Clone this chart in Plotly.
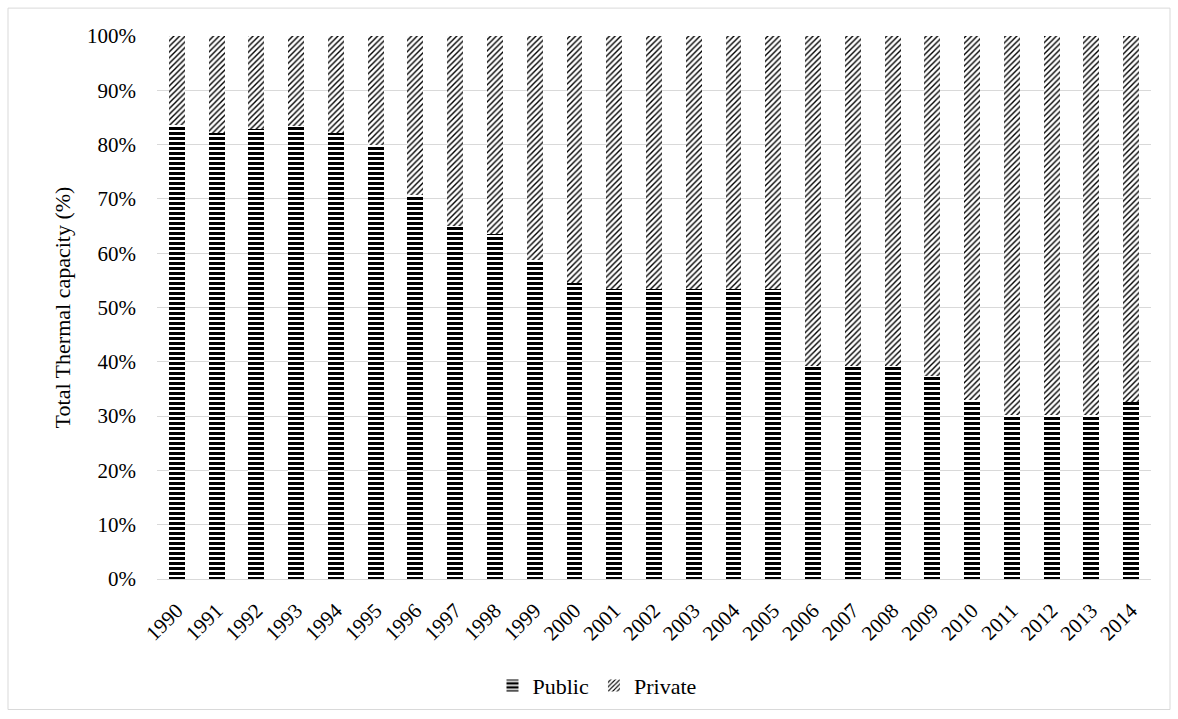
import plotly.graph_objects as go

years = [str(y) for y in range(1990, 2015)]
public = [83.6, 82.2, 82.9, 83.5, 82.2, 80.0, 70.8, 65.0, 63.5, 58.8,
          54.5, 53.4, 53.4, 53.4, 53.4, 53.4, 39.2, 39.2, 39.2, 37.4,
          32.9, 30.2, 30.2, 30.2, 32.6]
private = [round(100 - v, 1) for v in public]
y_ticks = list(range(0, 101, 10))
y_tick_labels = [f"{v}%" for v in y_ticks]

W, H = 1178, 719
ML, MR, MT, MB = 157, 27, 36, 138
PW, PH = W - ML - MR, H - MT - MB

FONT = '"Liberation Serif", "Times New Roman", Times, serif'


def px_to_paper_x(px):
    return (px - ML) / PW


def px_to_paper_y(py):
    return (H - MB - py) / PH


fig = go.Figure()
fig.add_trace(go.Bar(
    x=years, y=public, name="Public",
    marker=dict(color="white", line=dict(width=0),
                pattern=dict(shape="-", fgcolor="black", bgcolor="white",
                             fgopacity=1, size=5, solidity=0.6,
                             fillmode="replace")),
))
fig.add_trace(go.Bar(
    x=years, y=private, name="Private",
    marker=dict(color="white", line=dict(width=0),
                pattern=dict(shape="/", fgcolor="black", bgcolor="white",
                             fgopacity=1, size=4, solidity=0.35,
                             fillmode="replace")),
))

# outer chart border
fig.add_shape(type="rect", xref="paper", yref="paper",
              x0=px_to_paper_x(8), x1=px_to_paper_x(1170),
              y0=px_to_paper_y(712), y1=px_to_paper_y(8),
              line=dict(color="#d9d9d9", width=1), fillcolor="rgba(0,0,0,0)",
              layer="below")

fig.update_layout(
    width=W, height=H,
    margin=dict(l=ML, r=MR, t=MT, b=MB),
    barmode="stack", bargap=0.6,
    plot_bgcolor="white", paper_bgcolor="white",
    font=dict(family=FONT, size=21, color="black"),
    showlegend=True,
    legend=dict(orientation="h", x=px_to_paper_x(597), xanchor="center",
                y=px_to_paper_y(688), yanchor="middle",
                font=dict(family=FONT, size=22, color="black"), itemwidth=30,
                traceorder="normal"),
    hovermode=False,
)
fig.update_xaxes(
    type="category", tickangle=-45, showgrid=False,
    showline=True, linecolor="#d9d9d9", linewidth=1,
    ticks="", tickfont=dict(family=FONT, size=21, color="black"),
    ticklabelstandoff=10,
)
fig.update_yaxes(
    range=[0, 100], tickvals=y_ticks, ticktext=y_tick_labels,
    showgrid=True, gridcolor="#d9d9d9", gridwidth=1,
    zeroline=False, showline=False, ticks="",
    tickfont=dict(family=FONT, size=21, color="black"),
    ticklabelstandoff=20,
    title=dict(text="Total Thermal capacity (%)",
               font=dict(family=FONT, size=22, color="black"),
               standoff=10),
)

fig.write_html("out.html")
